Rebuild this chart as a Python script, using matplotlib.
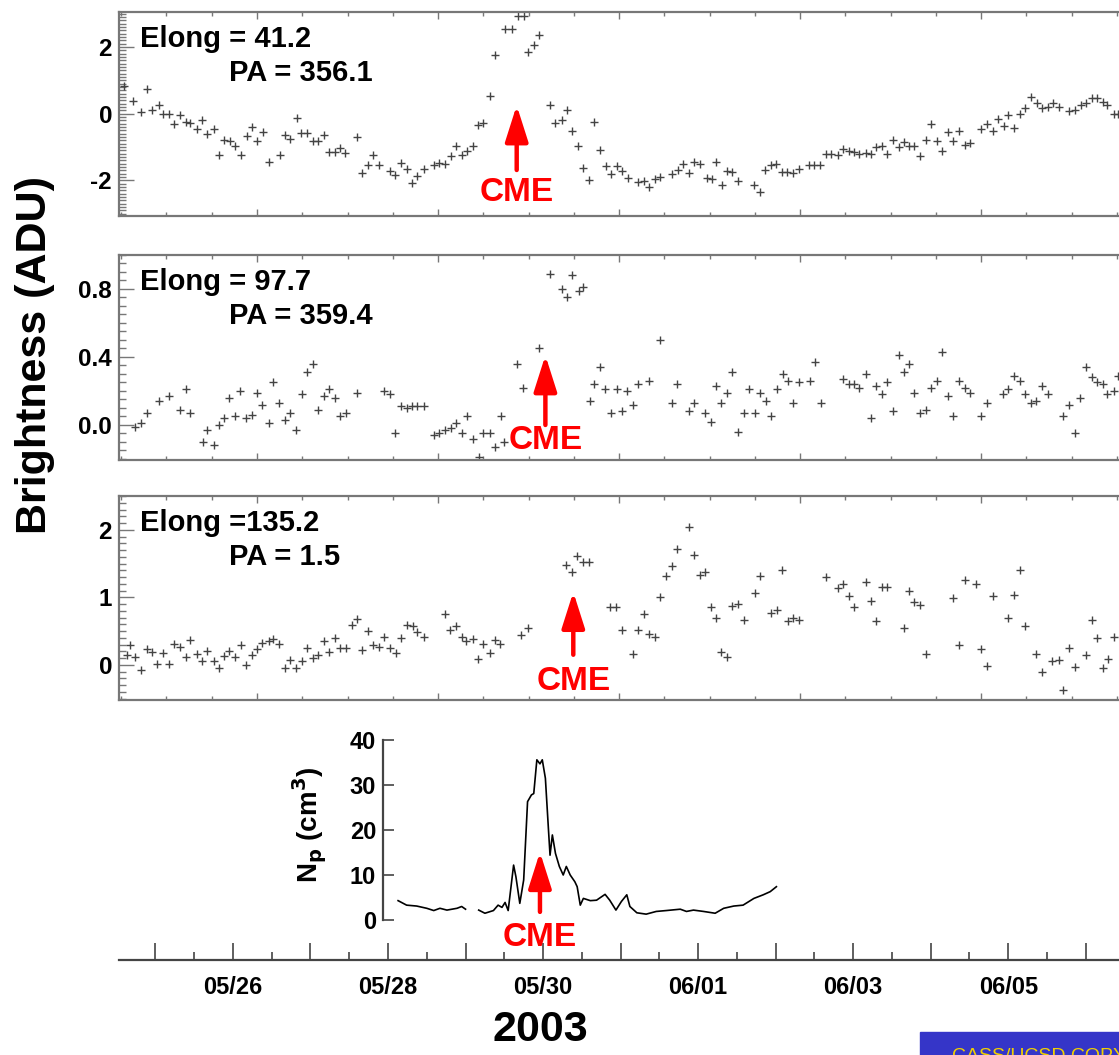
import numpy as np
import matplotlib
matplotlib.use('Agg')
import matplotlib.pyplot as plt
from matplotlib.ticker import MultipleLocator, NullLocator, FormatStrFormatter
from matplotlib.patches import Rectangle
from matplotlib.transforms import blended_transform_factory

plt.rcParams['font.family'] = ['Liberation Sans', 'DejaVu Sans']
plt.rcParams['font.weight'] = 'bold'

# tempo em dias de maio de 2003 (32 = 01/06)
p1_t = [24.59, 24.71, 24.82, 24.89, 24.95, 25.04, 25.10, 25.18, 25.24, 25.32, 25.39, 25.45, 25.53, 25.60, 25.67,
        25.75, 25.82, 25.88, 25.96, 26.03, 26.10, 26.18, 26.25, 26.31, 26.39, 26.46, 26.61, 26.67, 26.74, 26.82,
        26.88, 26.95, 27.03, 27.10, 27.17, 27.24, 27.32, 27.38, 27.45, 27.60, 27.67, 27.74, 27.81, 27.89, 28.02,
        28.09, 28.17, 28.24, 28.31, 28.38, 28.46, 28.59, 28.66, 28.73, 28.81, 28.88, 28.95, 29.02, 29.09, 29.16,
        29.23, 29.31, 29.38, 29.51, 29.60, 29.68, 29.75, 29.80, 29.88, 29.95, 30.09, 30.16, 30.24, 30.31, 30.37,
        30.45, 30.52, 30.59, 30.66, 30.74, 30.81, 30.88, 30.95,
        31.02, 31.09, 31.23, 31.30, 31.37, 31.45, 31.51, 31.66, 31.74, 31.80, 31.88, 31.95, 32.02, 32.11, 32.18,
        32.23, 32.31, 32.37, 32.44, 32.51, 32.72, 32.80, 32.86, 32.94, 33.01, 33.08, 33.15, 33.22, 33.30, 33.43,
        33.50, 33.57, 33.65, 33.72, 33.80, 33.87, 33.94, 34.01, 34.08, 34.16, 34.23, 34.30, 34.37, 34.44, 34.51,
        34.59, 34.65, 34.72, 34.79, 34.86, 34.94, 35.01, 35.08, 35.15, 35.22, 35.29, 35.37, 35.44, 35.51, 35.65,
        35.72, 35.80, 35.87, 35.94, 36.00, 36.08, 36.15, 36.22, 36.30, 36.37, 36.43, 36.51, 36.58, 36.65, 36.79,
        36.86, 36.94, 37.00, 37.08, 37.14, 37.22, 37.28, 37.36, 37.42]
p1_v = [0.83, 0.39, 0.05, 0.74, 0.12, 0.25, 0.0, 0.0, -0.31, -0.05, -0.25, -0.27, -0.47, -0.2, -0.61,
        -0.47, -1.23, -0.78, -0.81, -0.98, -1.23, -0.67, -0.39, -0.83, -0.55, -1.45, -1.23, -0.64, -0.76, -0.13,
        -0.57, -0.57, -0.81, -0.81, -0.64, -1.14, -1.14, -1.03, -1.18, -0.69, -1.78, -1.55, -1.23, -1.55, -1.72,
        -1.83, -1.47, -1.67, -2.09, -1.86, -1.67, -1.55, -1.47, -1.52, -1.27, -0.98, -1.23, -1.13, -0.98, -0.34,
        -0.27, 0.54, 1.76, 2.55, 2.55, 2.92, 2.92, 1.86, 2.06, 2.37, 0.25, -0.27, -0.18, 0.12, -0.51,
        -0.98, -1.62, -1.98, -0.25, -1.10, -1.57, -1.81, -1.57,
        -1.72, -1.93, -2.04, -2.02, -2.21, -1.96, -1.89, -1.81, -1.69, -1.52, -1.79, -1.45, -1.52, -1.94, -1.96,
        -1.45, -2.13, -1.72, -1.74, -2.01, -2.13, -2.35, -1.70, -1.54, -1.52, -1.74, -1.76, -1.78, -1.67, -1.54,
        -1.54, -1.54, -1.21, -1.21, -1.25, -1.05, -1.13, -1.16, -1.20, -1.18, -1.20, -1.01, -0.98, -1.21, -0.80,
        -1.01, -0.86, -0.98, -0.98, -1.27, -0.78, -0.31, -0.83, -1.13, -0.54, -0.83, -0.52, -0.93, -0.88, -0.47,
        -0.31, -0.52, -0.17, -0.37, -0.05, -0.44, 0.0, 0.18, 0.49, 0.32, 0.18, 0.20, 0.32, 0.20, 0.07,
        0.10, 0.25, 0.32, 0.47, 0.47, 0.34, 0.25, 0.0, 0.0]

p2_t = [24.74, 24.82, 24.89, 25.04, 25.18, 25.32, 25.39, 25.45, 25.61, 25.67, 25.75, 25.82, 25.88, 25.95, 26.03,
        26.09, 26.17, 26.24, 26.31, 26.38, 26.46, 26.52, 26.60, 26.67, 26.74, 26.81, 26.89, 26.96, 27.03, 27.10,
        27.18, 27.24, 27.32, 27.38, 27.46, 27.60, 27.95, 28.03, 28.09, 28.17, 28.24, 28.31, 28.38, 28.46, 28.59,
        28.66, 28.74, 28.81, 28.88, 28.95, 29.02, 29.09, 29.17, 29.23, 29.31, 29.38, 29.46, 29.50, 29.66, 29.74,
        29.95, 30.09, 30.24, 30.31, 30.37, 30.46, 30.52, 30.60, 30.66, 30.74, 30.80, 30.88, 30.95,
        31.02, 31.08, 31.16, 31.23, 31.37, 31.51, 31.66, 31.73, 31.88, 31.95, 32.09, 32.16, 32.23, 32.30, 32.37,
        32.44, 32.51, 32.59, 32.66, 32.73, 32.80, 32.87, 32.94, 33.02, 33.09, 33.16, 33.23, 33.30, 33.44, 33.51,
        33.58, 33.87, 33.94, 34.01, 34.08, 34.16, 34.23, 34.30, 34.37, 34.44, 34.51, 34.59, 34.65, 34.72, 34.79,
        34.86, 34.94, 35.01, 35.08, 35.15, 35.22, 35.29, 35.37, 35.44, 35.51, 35.65, 35.72, 35.93, 36.00, 36.08,
        36.15, 36.22, 36.29, 36.36, 36.43, 36.51, 36.71, 36.79, 36.86, 36.93, 37.00, 37.08, 37.15, 37.22, 37.28,
        37.36, 37.42]
p2_v = [-0.01, 0.01, 0.07, 0.14, 0.17, 0.09, 0.21, 0.07, -0.10, -0.03, -0.12, 0.0, 0.04, 0.16, 0.05,
        0.20, 0.04, 0.06, 0.19, 0.12, 0.01, 0.25, 0.13, 0.03, 0.07, -0.03, 0.18, 0.31, 0.36, 0.09,
        0.17, 0.21, 0.16, 0.05, 0.07, 0.19, 0.20, 0.18, -0.05, 0.11, 0.10, 0.11, 0.11, 0.11, -0.06,
        -0.05, -0.03, -0.02, 0.01, -0.05, 0.05, -0.08, -0.19, -0.05, -0.05, -0.13, 0.05, -0.10, 0.36, 0.22,
        0.45, 0.89, 0.80, 0.75, 0.88, 0.79, 0.81, 0.14, 0.24, 0.34, 0.21, 0.07, 0.21,
        0.08, 0.20, 0.12, 0.24, 0.26, 0.50, 0.13, 0.24, 0.08, 0.13, 0.07, 0.02, 0.23, 0.13, 0.19,
        0.31, -0.04, 0.07, 0.21, 0.07, 0.19, 0.14, 0.05, 0.21, 0.30, 0.26, 0.13, 0.25, 0.26, 0.37,
        0.13, 0.27, 0.24, 0.24, 0.22, 0.30, 0.04, 0.23, 0.18, 0.25, 0.08, 0.41, 0.31, 0.36, 0.19,
        0.07, 0.09, 0.22, 0.26, 0.43, 0.17, 0.05, 0.26, 0.22, 0.19, 0.05, 0.13, 0.18, 0.21, 0.29,
        0.26, 0.18, 0.13, 0.14, 0.23, 0.18, 0.05, 0.12, -0.05, 0.16, 0.34, 0.28, 0.25, 0.24, 0.18,
        0.20, 0.29]

p3_t = [24.63, 24.67, 24.74, 24.82, 24.89, 24.96, 25.02, 25.10, 25.17, 25.24, 25.32, 25.39, 25.45, 25.53, 25.60,
        25.67, 25.75, 25.82, 25.88, 25.95, 26.03, 26.10, 26.17, 26.24, 26.31, 26.38, 26.46, 26.52, 26.60, 26.67,
        26.74, 26.81, 26.89, 26.96, 27.03, 27.10, 27.17, 27.24, 27.32, 27.38, 27.46, 27.53, 27.60, 27.67, 27.74,
        27.81, 27.88, 27.95, 28.03, 28.10, 28.17, 28.24, 28.32, 28.38, 28.46, 28.74, 28.80, 28.88, 28.95, 29.01,
        29.09, 29.16, 29.23, 29.31, 29.38, 29.45, 29.72, 29.80, 30.30, 30.37, 30.44, 30.51, 30.59, 30.86, 30.94,
        31.02,
        31.16, 31.23, 31.30, 31.37, 31.45, 31.51, 31.59, 31.66, 31.73, 31.88, 31.95, 32.02, 32.09, 32.16, 32.23,
        32.30, 32.37, 32.44, 32.51, 32.59, 32.73, 32.80, 32.94, 33.02, 33.08, 33.16, 33.23, 33.30, 33.65, 33.80,
        33.87, 33.94, 34.01, 34.16, 34.23, 34.30, 34.37, 34.44, 34.65, 34.72, 34.79, 34.86, 34.94, 35.29, 35.37,
        35.44, 35.58, 35.65, 35.72, 35.80, 36.00, 36.08, 36.15, 36.22, 36.36, 36.43, 36.57, 36.65, 36.71, 36.79,
        36.86, 37.00, 37.08, 37.15, 37.22, 37.29, 37.36]
p3_v = [0.15, 0.29, 0.12, -0.07, 0.24, 0.19, 0.02, 0.18, 0.02, 0.31, 0.27, 0.12, 0.37, 0.16, 0.06,
        0.20, 0.06, -0.05, 0.13, 0.20, 0.11, 0.29, 0.0, 0.14, 0.23, 0.32, 0.35, 0.38, 0.31, -0.05,
        0.07, -0.05, 0.05, 0.25, 0.10, 0.15, 0.36, 0.19, 0.40, 0.25, 0.25, 0.59, 0.68, 0.22, 0.50,
        0.30, 0.27, 0.42, 0.25, 0.17, 0.40, 0.59, 0.57, 0.49, 0.41, 0.76, 0.52, 0.57, 0.42, 0.35,
        0.39, 0.08, 0.31, 0.17, 0.37, 0.31, 0.44, 0.55, 1.48, 1.37, 1.61, 1.53, 1.52, 0.86, 0.86,
        0.52,
        0.16, 0.52, 0.75, 0.46, 0.42, 1.00, 1.31, 1.46, 1.71, 2.04, 1.63, 1.33, 1.38, 0.86, 0.70,
        0.19, 0.12, 0.87, 0.90, 0.67, 1.06, 1.31, 0.77, 0.81, 1.41, 0.65, 0.70, 0.67, 1.30, 1.14,
        1.19, 1.02, 0.86, 1.23, 0.95, 0.65, 1.15, 1.15, 0.55, 1.10, 0.93, 0.89, 0.16, 0.99, 0.30,
        1.25, 1.20, 0.24, -0.01, 1.02, 0.70, 1.04, 1.40, 0.57, 0.16, -0.11, 0.06, 0.07, -0.37, 0.25,
        -0.03, 0.14, 0.67, 0.40, -0.05, 0.08, 0.42]

# densidade de protons (nan = falha nos dados)
np_t = [28.13, 28.24, 28.37, 28.50, 28.59, 28.67, 28.76, 28.89, 28.95, 29.00, np.nan,
        29.17, 29.25, 29.36, 29.42, 29.47, 29.51, 29.55, 29.62, 29.65, 29.70, 29.75, 29.80, 29.85, 29.88, 29.92,
        29.96, 29.99, 30.03, 30.07, 30.09, 30.12, 30.16, 30.21, 30.26, 30.30, 30.35, 30.41, 30.44, 30.48, 30.52,
        30.61, 30.69, 30.80, 30.86, 30.94, 31.01, 31.08, 31.12, 31.21, 31.33, 31.46, 31.59, 31.77, 31.85, 31.94,
        32.07, 32.22, 32.33, 32.46, 32.58, 32.72, 32.84, 32.93, 33.01]
np_v = [4.3, 3.3, 3.1, 2.6, 2.1, 2.6, 2.2, 2.6, 3.0, 2.4, np.nan,
        2.2, 1.5, 2.1, 3.3, 2.8, 3.9, 2.1, 12.2, 9.6, 3.7, 8.9, 26.3, 27.8, 28.1, 35.6,
        34.7, 35.6, 31.5, 20.0, 14.4, 18.9, 14.8, 11.9, 10.0, 11.9, 10.0, 8.5, 7.4, 3.3, 4.8,
        4.3, 4.4, 5.7, 4.4, 2.2, 4.1, 5.6, 3.0, 1.6, 1.3, 1.9, 2.1, 2.4, 1.9, 2.2,
        1.9, 1.5, 2.6, 3.1, 3.3, 4.8, 5.6, 6.3, 7.4]

elong_txt = ['Elong = 41.2', 'Elong = 97.7', 'Elong =135.2']
pa_txt = ['PA = 356.1', 'PA = 359.4', 'PA = 1.5']
# chegada da CME: (tempo, ponta, base, texto)
cme = [(29.66, 0.25, -1.69, -2.37), (30.03, 0.41, 0.0, -0.09), (30.39, 1.08, 0.15, -0.24)]
cme_np = (29.96, 15.1, 1.8, -3.8)

tick_pos = [26, 28, 30, 32, 34, 36]
tick_lbl = ['05/26', '05/28', '05/30', '06/01', '06/03', '06/05']

W, H = 1119, 1055
fig = plt.figure(figsize=(W / 100, H / 100), dpi=100)

xlim = (24.53, 37.70)
left, right = 119, 1140

def px_axes(top, bottom):
    return fig.add_axes([left / W, 1 - bottom / H, (right - left) / W, (bottom - top) / H])

def seta_cme(ax, xc, tip, base, ty):
    ax.annotate('', xy=(xc, tip), xytext=(xc, base),
                arrowprops=dict(arrowstyle='-|>,head_width=0.35,head_length=1.1', lw=3.2, color='red',
                                shrinkA=0, shrinkB=0, mutation_scale=20))
    ax.text(xc, ty, 'CME', color='red', fontsize=24, ha='center', va='center')

paineis = [
    (12, 216, p1_t, p1_v, (-3.07, 3.05), 2, 0.1, '%d'),
    (255, 460, p2_t, p2_v, (-0.206, 1.0), 0.4, 0.05, '%.1f'),
    (496, 700, p3_t, p3_v, (-0.52, 2.5), 1, 0.1, '%d'),
]
grey = '#777777'
for i, (top, bot, t, v, ylim, maj, mnr, fmt) in enumerate(paineis):
    ax = px_axes(top, bot)
    ax.plot(t, v, linestyle='none', marker='+', ms=5.5, mew=1.0, color='#444444')
    ax.set_xlim(xlim)
    ax.set_ylim(ylim)
    for s in ax.spines.values():
        s.set_color(grey)
        s.set_linewidth(1.6)
    ax.xaxis.set_major_locator(MultipleLocator(2.335, offset=26.31))
    ax.xaxis.set_minor_locator(MultipleLocator(0.58375, offset=26.31))
    ax.yaxis.set_major_locator(MultipleLocator(maj))
    ax.yaxis.set_minor_locator(MultipleLocator(mnr))
    ax.yaxis.set_major_formatter(FormatStrFormatter(fmt))
    ax.tick_params(axis='x', which='both', direction='in', top=True, bottom=True, labelbottom=False,
                   color=grey, width=1)
    ax.tick_params(axis='x', which='major', length=5)
    ax.tick_params(axis='x', which='minor', length=3)
    ax.tick_params(axis='y', which='both', direction='in', color=grey, width=1, right=False)
    ax.tick_params(axis='y', which='major', length=11, labelsize=17.5, pad=5)
    ax.tick_params(axis='y', which='minor', length=5)
    ax.text(0.021, 0.87, elong_txt[i], transform=ax.transAxes, fontsize=21, ha='left', va='center')
    ax.text(0.108, 0.70, pa_txt[i], transform=ax.transAxes, fontsize=21, ha='left', va='center')
    seta_cme(ax, *cme[i])

# painel da densidade, com o eixo de tempo comum
ax4 = px_axes(740, 960)
ax4.plot(np_t, np_v, color='black', lw=1.2)
ax4.set_xlim(xlim)
ax4.set_ylim(-8.89, 40)
ax4.spines['top'].set_visible(False)
ax4.spines['right'].set_visible(False)
ax4.spines['left'].set_position(('data', 27.935))
ax4.spines['left'].set_bounds(0, 40)
for s in ('left', 'bottom'):
    ax4.spines[s].set_color('#444444')
    ax4.spines[s].set_linewidth(1.6)
ax4.set_yticks([0, 10, 20, 30, 40])
ax4.yaxis.set_minor_locator(NullLocator())
ax4.tick_params(axis='y', direction='in', length=8, width=1.2, labelsize=17, pad=5, color='#444444')
ax4.xaxis.set_major_locator(MultipleLocator(1))
ax4.xaxis.set_minor_locator(MultipleLocator(0.5))
ax4.tick_params(axis='x', which='major', direction='in', length=12, width=1.2, color='#444444',
                labelbottom=False)
ax4.tick_params(axis='x', which='minor', direction='in', length=6, width=1.2, color='#444444')
trans = blended_transform_factory(ax4.transData, fig.transFigure)
for tp, tl in zip(tick_pos, tick_lbl):
    ax4.text(tp, 1 - 988 / H, tl, transform=trans, ha='center', va='center', fontsize=17)
seta_cme(ax4, *cme_np)

fig.text(310 / W, 1 - 825 / H, 'N$_\\mathbf{p}$ (cm$^\\mathbf{3}$)', rotation=90, ha='center', va='center',
         fontsize=20)
fig.text(35 / W, 1 - 355 / H, 'Brightness (ADU)', rotation=90, ha='center', va='center', fontsize=31)
fig.text(540 / W, 1 - 1030 / H, '2003', ha='center', va='center', fontsize=31)

fig.patches.append(Rectangle((920 / W, 0), (W - 920) / W, 23 / H, transform=fig.transFigure,
                             color='#3535c8', zorder=5))
fig.text(952 / W, 1 - 1048 / H, 'CASS/UCSD COPYRIGHT', color='#f0d000', fontsize=14,
         ha='left', va='top', fontweight='normal', zorder=6)

fig.savefig('out.png', dpi=100)
